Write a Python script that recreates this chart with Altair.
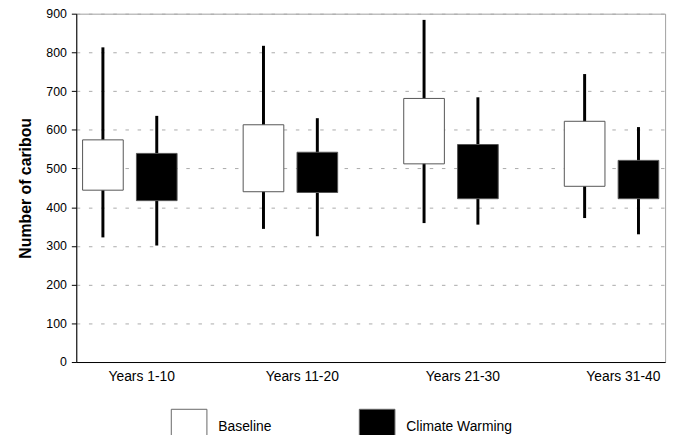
import altair as alt
import pandas as pd

periods = ["Years 1-10", "Years 11-20", "Years 21-30", "Years 31-40"]
scenarios = ["Baseline", "Climate Warming"]

baseline_min = [322, 344, 359, 372]
baseline_q1 = [444, 440, 512, 454]
baseline_q3 = [574, 613, 681, 622]
baseline_max = [813, 817, 884, 744]

warming_min = [301, 325, 355, 330]
warming_q1 = [417, 438, 422, 422]
warming_q3 = [539, 542, 562, 521]
warming_max = [636, 630, 684, 607]

rows = []
for i, p in enumerate(periods):
    rows.append(dict(period=p, scenario="Baseline", lo=baseline_min[i], q1=baseline_q1[i],
                     q3=baseline_q3[i], hi=baseline_max[i]))
    rows.append(dict(period=p, scenario="Climate Warming", lo=warming_min[i], q1=warming_q1[i],
                     q3=warming_q3[i], hi=warming_max[i]))
df = pd.DataFrame(rows)

FONT = "Liberation Sans"

x_axis = alt.Axis(labelAngle=0, ticks=False, labelFontSize=14, labelFont=FONT,
                  labelColor="black", labelPadding=8, labelOffset=12,
                  domainColor="black", domainWidth=1, grid=False)
x = alt.X("period:N", sort=periods, title=None,
          scale=alt.Scale(paddingInner=0.333, paddingOuter=0), axis=x_axis)
xoff = alt.XOffset("scenario:N", sort=scenarios,
                   scale=alt.Scale(paddingInner=0.245, paddingOuter=0.117))
y_axis = alt.Axis(title="Number of caribou", values=list(range(0, 901, 100)),
                  labelOverlap=False,
                  titleFontSize=16, titleFont=FONT, titleFontWeight="bold", titleColor="black",
                  titlePadding=12, labelFontSize=12.5, labelFont=FONT, labelColor="black",
                  labelPadding=5, tickSize=5, tickColor="black", domainColor="black",
                  grid=True, gridColor="#aaaaaa", gridDash=[3.5, 8.8], gridWidth=1)
y_scale = alt.Scale(domain=[0, 900], nice=False)

base = alt.Chart(df)

whiskers = base.mark_rule(color="black", strokeWidth=3).encode(
    x=x, xOffset=xoff,
    y=alt.Y("lo:Q", scale=y_scale, axis=y_axis),
    y2="hi:Q",
)

boxes = base.mark_bar(stroke="#555555", strokeWidth=1).encode(
    x=x, xOffset=xoff,
    y=alt.Y("q1:Q", scale=y_scale, axis=y_axis),
    y2="q3:Q",
    fill=alt.Fill("scenario:N", sort=scenarios,
                  scale=alt.Scale(domain=scenarios, range=["white", "black"]),
                  legend=alt.Legend(title=None, orient="none", direction="horizontal",
                                    legendX=95.5, legendY=399, padding=0,
                                    symbolType="square", symbolSize=1296,
                                    symbolStrokeColor="#666666", symbolStrokeWidth=1,
                                    labelFontSize=14, labelFont=FONT, labelColor="black",
                                    labelOffset=11, columnPadding=86)),
)

chart = alt.layer(whiskers, boxes).properties(
    width=595, height=352,
    autosize=alt.AutoSizeParams(type="none"),
    padding={"left": 69, "top": 3.5, "right": 10, "bottom": 72},
).configure_view(stroke="#a0a0a0", strokeWidth=1)

chart.save("out.html", embed_options={"renderer": "svg", "actions": False})
